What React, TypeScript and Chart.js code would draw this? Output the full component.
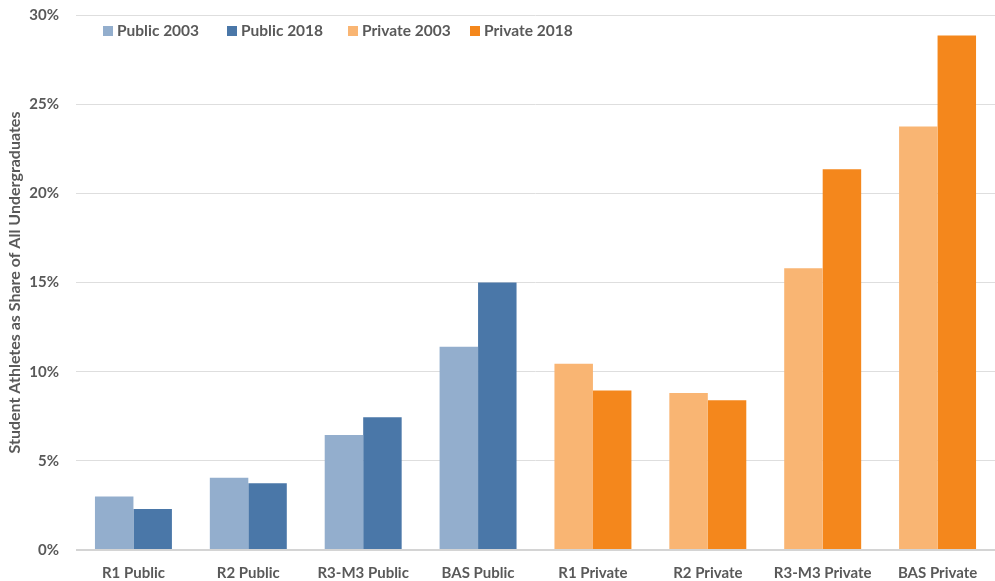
import { useEffect, useRef } from 'react';
import { Chart, registerables } from 'chart.js';

Chart.register(...registerables);

const categories = ['R1 Public', 'R2 Public', 'R3-M3 Public', 'BAS Public', 'R1 Private', 'R2 Private', 'R3-M3 Private', 'BAS Private'];
const public2003 = [3.0, 4.05, 6.45, 11.4, null, null, null, null];
const public2018 = [2.3, 3.75, 7.45, 15.0, null, null, null, null];
const private2003 = [null, null, null, null, 10.45, 8.8, 15.8, 23.75];
const private2018 = [null, null, null, null, 8.95, 8.4, 21.35, 28.85];
const yTicks = [0, 5, 10, 15, 20, 25, 30];
const seriesLabels = ['Public 2003', 'Public 2018', 'Private 2003', 'Private 2018'];
const seriesColors = ['#93AECD', '#4A77A8', '#F9B573', '#F4871C'];
const axisTitle = 'Student Athletes as Share of All Undergraduates';

const FONT = 'Lato, "Open Sans", sans-serif';
const TEXT = '#595959';

export default function App() {
  const ref = useRef<HTMLCanvasElement>(null);
  useEffect(() => {
    if (!ref.current) return;
    const legendPlugin = {
      id: 'customLegend',
      afterDraw(chart: any) {
        const ctx = chart.ctx;
        ctx.save();
        ctx.font = `bold 15.5px ${FONT}`;
        ctx.textBaseline = 'middle';
        ctx.textAlign = 'left';
        const xs = [103, 227, 348, 470];
        chart.data.datasets.forEach((ds: any, i: number) => {
          ctx.fillStyle = ds.backgroundColor;
          ctx.fillRect(xs[i], 26, 10, 10);
          ctx.fillStyle = TEXT;
          ctx.fillText(ds.label, xs[i] + 14, 31);
        });
        ctx.restore();
      },
    };
    const dataSeries = [public2003, public2018, private2003, private2018];
    const chart = new Chart(ref.current, {
      type: 'bar',
      data: {
        labels: categories,
        datasets: dataSeries.map((d, i) => ({
          label: seriesLabels[i],
          data: d as any,
          backgroundColor: seriesColors[i],
          borderWidth: 0,
          stack: i % 2 === 0 ? 'y2003' : 'y2018',
          categoryPercentage: 0.67,
          barPercentage: 1.0,
        })),
      },
      options: {
        responsive: false,
        animation: false,
        layout: { padding: { top: 15, right: 0, bottom: 0, left: 0 } },
        plugins: {
          legend: { display: false },
          tooltip: { enabled: false },
        },
        scales: {
          x: {
            stacked: true,
            grid: { display: false, drawTicks: false },
            border: { display: false },
            ticks: {
              color: TEXT,
              font: { family: FONT, size: 15, weight: 'bold' },
              padding: 14,
              maxRotation: 0,
              autoSkip: false,
            },
            afterFit(scale: any) {
              scale.height = 31;
              scale.paddingLeft = 0;
              scale.paddingRight = 0;
            },
          },
          y: {
            stacked: true,
            min: 0,
            max: 30,
            afterBuildTicks(scale: any) { scale.ticks = yTicks.map((v) => ({ value: v })); },
            grid: {
              drawTicks: false,
              color: (c: any) => (c.tick && c.tick.value === 0 ? '#d4d4d4' : '#dedede'),
              lineWidth: (c: any) => (c.tick && c.tick.value === 0 ? 2 : 1),
            },
            border: { display: false },
            ticks: {
              color: TEXT,
              font: { family: FONT, size: 15, weight: 'bold' },
              padding: 17,
              callback: (v: any) => `${v}%`,
            },
            title: {
              display: true,
              text: axisTitle,
              color: TEXT,
              font: { family: FONT, size: 16, weight: 'bold' },
              padding: { top: 5, bottom: 0 },
            },
            afterFit(scale: any) {
              scale.width = 76;
              scale.paddingTop = 0;
              scale.paddingBottom = 0;
            },
          },
        },
      },
      plugins: [legendPlugin],
    });
    return () => chart.destroy();
  }, []);
  return (
    <div style={{ position: 'absolute', left: 0, top: 0, width: 995, height: 581, background: '#fff' }}>
      <canvas ref={ref} width={995} height={581} style={{ display: 'block' }} />
    </div>
  );
}
